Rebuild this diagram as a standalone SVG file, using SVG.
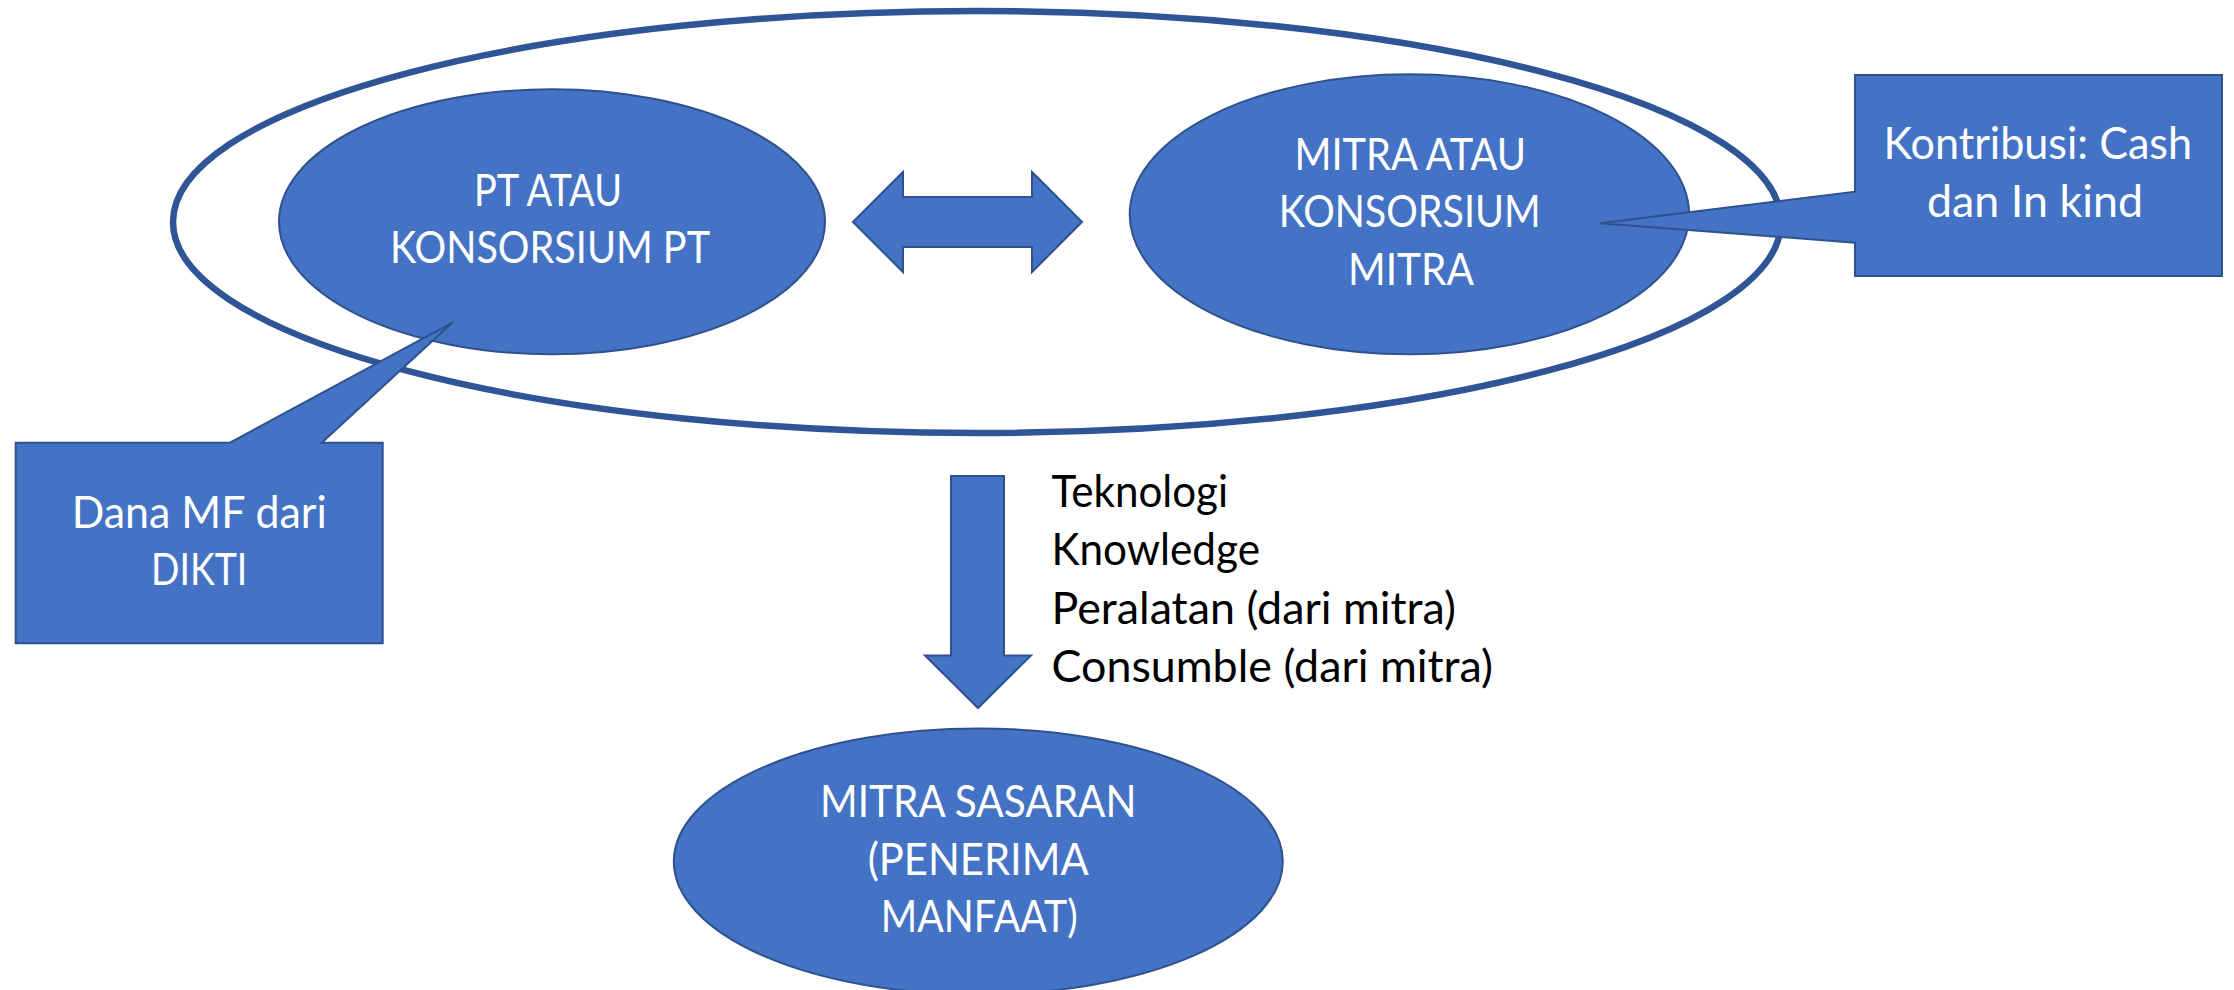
<svg xmlns="http://www.w3.org/2000/svg" width="2234" height="990" viewBox="0 0 2234 990">
  <style>
    .shape { fill: #4472C4; stroke: #2F528F; stroke-width: 2; stroke-linejoin: miter; }
    .outer { fill: none; stroke: #2F5597; stroke-width: 6.5; }
    .wt { fill: #FFFFFF; font-family: Lato, "Liberation Sans", "DejaVu Sans", sans-serif; font-size: 43.5px; }
    .bt { fill: #000000; font-family: Lato, "Liberation Sans", "DejaVu Sans", sans-serif; font-size: 43.5px; }
  </style>
  <rect x="0" y="0" width="2234" height="990" fill="#FFFFFF"/>

  <g id="outer-group">
    <ellipse class="outer" cx="977" cy="222" rx="804" ry="211"/>
  </g>

  <g id="connectors">
    <polygon class="shape" points="853,222 903,172 903,197 1032,197 1032,172 1082,222 1032,272 1032,247 903,247 903,272"/>
    <polygon class="shape" points="951,476 1004,476 1004,655.5 1031,655.5 978,708 925,655.5 951,655.5"/>
  </g>

  <g id="node-pt">
    <ellipse class="shape" cx="552" cy="221.7" rx="273" ry="132.5"/>
    <text class="wt" x="474" y="205.7" textLength="148" lengthAdjust="spacingAndGlyphs">PT ATAU</text>
    <text class="wt" x="390" y="263.3" textLength="320" lengthAdjust="spacingAndGlyphs">KONSORSIUM PT</text>
  </g>

  <g id="node-mitra">
    <ellipse class="shape" cx="1409.4" cy="214.3" rx="279.7" ry="140"/>
    <text class="wt" x="1294.5" y="170" textLength="231.5" lengthAdjust="spacingAndGlyphs">MITRA ATAU</text>
    <text class="wt" x="1278.7" y="226.7" textLength="262" lengthAdjust="spacingAndGlyphs">KONSORSIUM</text>
    <text class="wt" x="1348" y="285" textLength="126" lengthAdjust="spacingAndGlyphs">MITRA</text>
  </g>

  <g id="callout-kontribusi">
    <path class="shape" d="M1855,75 L2222,75 L2222,276 L1855,276 L1855,242.7 L1600,223.3 L1855,191.7 Z"/>
    <text class="wt" x="1883.6" y="159.3" textLength="308.5" lengthAdjust="spacingAndGlyphs">Kontribusi: Cash</text>
    <text class="wt" x="1927" y="217.3" textLength="216" lengthAdjust="spacingAndGlyphs">dan In kind</text>
  </g>

  <g id="callout-dana">
    <path class="shape" d="M15.7,442.7 L230,442.7 L452.7,322.3 L321.7,442.7 L382.7,442.7 L382.7,643.3 L15.7,643.3 Z"/>
    <text class="wt" x="71.7" y="528.3" textLength="255" lengthAdjust="spacingAndGlyphs">Dana MF dari</text>
    <text class="wt" x="151" y="585" textLength="96.3" lengthAdjust="spacingAndGlyphs">DIKTI</text>
  </g>

  <g id="list-label">
    <text class="bt" x="1051.5" y="507.3" textLength="176.5" lengthAdjust="spacingAndGlyphs">Teknologi</text>
    <text class="bt" x="1051.5" y="564.5" textLength="208.5" lengthAdjust="spacingAndGlyphs">Knowledge</text>
    <text class="bt" x="1051.5" y="624" textLength="404.5" lengthAdjust="spacingAndGlyphs">Peralatan (dari mitra)</text>
    <text class="bt" x="1051.5" y="682" textLength="441.5" lengthAdjust="spacingAndGlyphs">Consumble (dari mitra)</text>
  </g>

  <g id="node-sasaran">
    <ellipse class="shape" cx="978.3" cy="861.5" rx="304.5" ry="133"/>
    <text class="wt" x="820" y="817.3" textLength="316.5" lengthAdjust="spacingAndGlyphs">MITRA SASARAN</text>
    <text class="wt" x="867.7" y="875" textLength="221" lengthAdjust="spacingAndGlyphs">(PENERIMA</text>
    <text class="wt" x="880.7" y="931.7" textLength="197" lengthAdjust="spacingAndGlyphs">MANFAAT)</text>
  </g>
</svg>
